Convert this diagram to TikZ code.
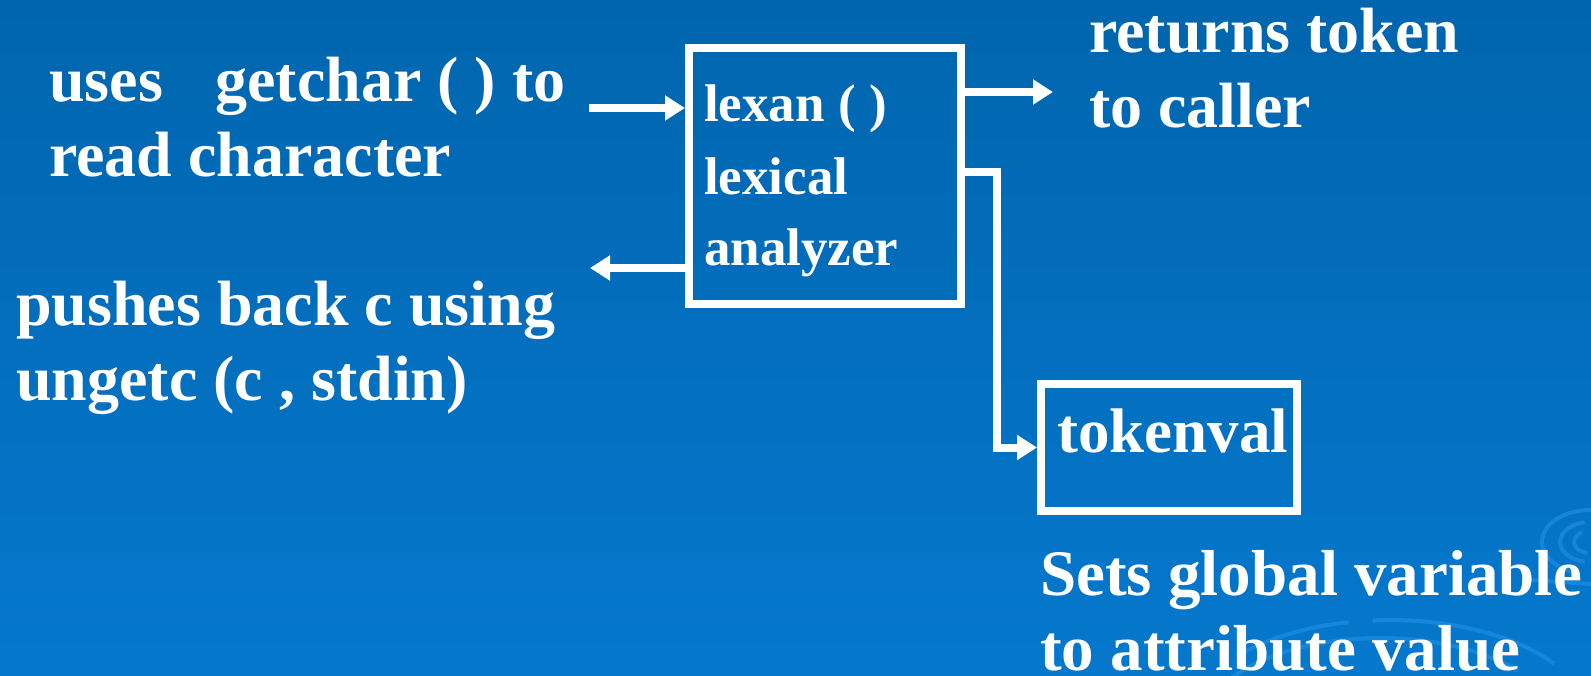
\documentclass[tikz,border=0pt]{standalone}
\usepackage{fontspec}
\setmainfont{Liberation Serif}
\usetikzlibrary{arrows.meta,calc}
\definecolor{bgtop}{RGB}{0,101,174}
\definecolor{bgbot}{RGB}{5,120,205}
\definecolor{swirl}{RGB}{40,150,235}
\tikzset{
  box/.style={draw=white, line width=8pt, line join=miter, inner sep=0pt},
  arr/.style={draw=white, line width=8pt, line join=miter, -{Triangle[length=20pt,width=24pt]}},
  txt/.style={text=white, inner sep=0pt, anchor=base west},
  big/.style={txt, font=\fontsize{64}{75}\bfseries\selectfont},
  bigg/.style={txt, font=\fontsize{65}{75}\bfseries\selectfont},
  inb/.style={txt, font=\fontsize{53}{64}\bfseries\selectfont},
  sw/.style={draw=swirl, line width=4pt, opacity=0.5}
}
\begin{document}
\begin{tikzpicture}[x=1pt,y=-1pt]
\useasboundingbox (0,0) rectangle (1591,675);
\shade[top color=bgtop, bottom color=bgbot] (0,0) rectangle (1591,675);
% background swirls
\begin{scope}
\clip (0,0) rectangle (1591,675);
\draw[sw] (1590,542) ++(-80:48 and 32) arc[start angle=-80, end angle=-250, x radius=48, y radius=32];
\draw[sw] (1590,542) ++(-100:30 and 20) arc[start angle=-100, end angle=-260, x radius=30, y radius=20];
\draw[sw] (1590,542) ++(-120:16 and 11) arc[start angle=-120, end angle=-260, x radius=16, y radius=11];
\draw[sw] (1530,580) -- (1591,584);
\draw[sw] (1390,722) ++(-35:200 and 102) arc[start angle=-35, end angle=-95, x radius=200, y radius=102];
\draw[sw] (1390,722) ++(-102:200 and 102) arc[start angle=-102, end angle=-140, x radius=200, y radius=102];
\draw[sw] (1380,730) ++(-40:180 and 92) arc[start angle=-40, end angle=-150, x radius=180, y radius=92];
\end{scope}
% left texts
\node[big] (t1) at (49,101) {uses\hspace{0.57em} getchar ( ) to};
\node[big] (t2) at (49,176) {read character};
\node[big] (t3) at (16,325) {pushes back c using};
\node[big] (t4) at (16,400) {ungetc (c , stdin)};
% main box
\node[box, anchor=north west, minimum width=272pt, minimum height=256pt] (lex) at (685,44) {};
\node[inb] (l1) at (704,121) {lexan ( )};
\node[inb] (l2) at (704,194) {lexical};
\node[inb] (l3) at (704,265) {analyzer};
% right texts
\node[big] (r1) at (1089,52) {returns token};
\node[big] (r2) at (1089,127) {to caller};
% tokenval box
\node[box, anchor=north west, minimum width=256pt, minimum height=127pt] (tok) at (1037,380) {};
\node[big, font=\fontsize{63}{75}\bfseries\selectfont] (tv) at (1057,452) {tokenval};
\node[bigg] (s1) at (1040,595) {Sets global variable};
\node[bigg] (s2) at (1040,670) {to attribute value};
% connectors
\coordinate (inS) at (589,108);
\coordinate (outE) at (590,268);
\coordinate (retE) at (1053,92);
\draw[arr] (inS) -- (lex.west |- inS);
\draw[arr] (lex.west |- outE) -- (outE);
\draw[arr] (lex.east |- retE) -- (retE);
\draw[arr] (lex.east |- 0,172) -- (997,172) |- (tok.west);
\end{tikzpicture}
\end{document}
